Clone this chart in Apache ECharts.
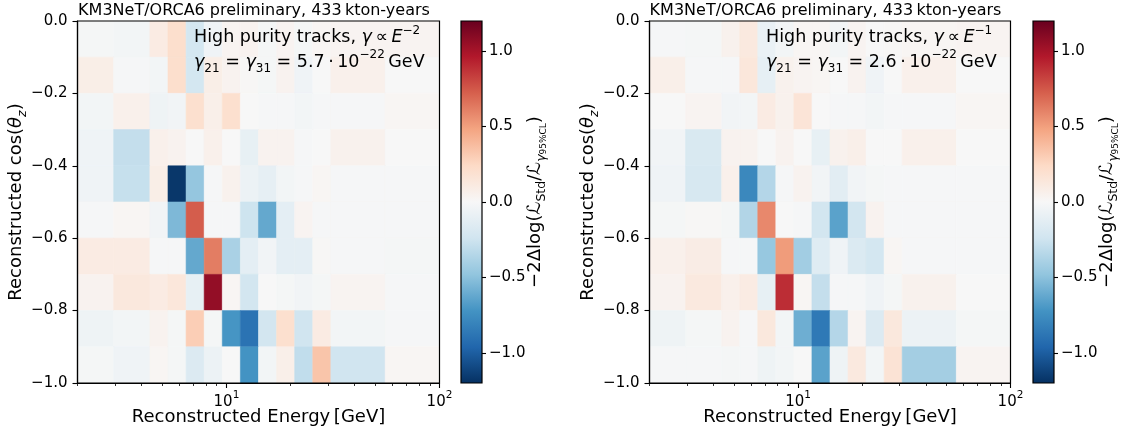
<!DOCTYPE html>
<html>
<head>
<meta charset="utf-8">
<script src="https://cdn.jsdelivr.net/npm/echarts@6/dist/echarts.min.js"></script>
<style>
  html, body { margin: 0; padding: 0; background: #fff; }
  #chart { width: 1128px; height: 437px; }
</style>
</head>
<body>
<div id="chart"></div>
<script>
// Reconstructed-energy bin edges in GeV (log-spaced, outer bins merged)
const energyEdges = [2.0, 2.957, 4.373, 5.318, 6.467, 7.864, 9.564, 11.63, 14.14, 17.20, 20.91, 25.43, 30.92, 55.61, 100.0];
// Reconstructed cos(theta_z) bin edges, top row first
const cosEdges = [0.0, -0.1, -0.2, -0.3, -0.4, -0.5, -0.6, -0.7, -0.8, -0.9, -1.0];

// -2 Delta log L per cell, rows listed from cos = 0 downwards, gamma ∝ E^-2
const llrSteep = [
  [-0.02, -0.03, 0.10, 0.21, -0.22, -0.05, 0.03, 0.04, -0.02, 0.03, -0.02, 0.02, 0.03, 0.03],
  [0.08, -0.01, -0.03, 0.21, -0.22, 0.08, 0.04, 0.01, -0.02, 0.04, -0.05, 0.00, 0.06, 0.00],
  [-0.03, 0.06, -0.06, -0.04, 0.20, 0.07, 0.20, 0.00, -0.01, -0.01, -0.03, -0.01, -0.01, 0.02],
  [-0.05, -0.29, 0.06, 0.04, 0.00, 0.06, 0.00, -0.10, 0.04, 0.04, -0.01, 0.00, 0.05, 0.00],
  [-0.05, -0.28, 0.08, -1.17, -0.47, -0.01, 0.05, -0.07, -0.11, -0.03, -0.01, 0.02, -0.01, -0.01],
  [-0.01, 0.02, -0.04, -0.54, 0.73, -0.01, -0.01, -0.25, -0.62, -0.12, 0.03, -0.01, -0.01, -0.01],
  [0.10, 0.10, -0.01, -0.01, -0.62, 0.62, -0.39, -0.12, -0.04, -0.12, -0.12, 0.01, -0.01, -0.02],
  [0.04, 0.13, 0.10, 0.14, -0.10, 1.06, 0.02, -0.23, 0.00, -0.02, -0.04, -0.02, 0.03, -0.01],
  [-0.06, -0.03, 0.04, -0.02, 0.30, -0.02, -0.71, -0.89, -0.23, 0.20, -0.24, 0.10, -0.03, -0.01],
  [-0.02, -0.05, 0.02, -0.02, -0.17, -0.07, 0.00, -0.72, -0.03, 0.07, -0.30, 0.34, -0.24, 0.02]
];

// Same layout, gamma ∝ E^-1
const llrFlat = [
  [-0.01, -0.02, 0.05, 0.12, -0.08, -0.03, 0.02, 0.02, -0.03, 0.03, 0.00, 0.01, 0.02, 0.03],
  [0.07, -0.01, -0.01, 0.14, -0.11, 0.05, 0.03, 0.02, 0.00, 0.04, -0.05, 0.00, 0.06, 0.00],
  [0.00, 0.03, -0.04, -0.03, 0.10, 0.05, 0.16, 0.00, -0.01, -0.01, -0.03, -0.01, -0.01, 0.02],
  [-0.04, -0.19, 0.04, 0.04, 0.00, 0.04, 0.00, -0.10, 0.05, 0.07, 0.00, 0.00, 0.06, 0.00],
  [-0.05, -0.20, 0.06, -0.78, -0.35, -0.01, 0.04, -0.04, -0.13, -0.04, -0.02, -0.01, -0.01, -0.01],
  [-0.02, 0.01, -0.02, -0.36, 0.58, 0.00, -0.01, -0.23, -0.65, -0.23, 0.04, -0.01, -0.01, -0.01],
  [0.06, 0.09, -0.01, -0.01, -0.46, 0.51, -0.42, -0.15, -0.05, -0.18, -0.22, 0.02, -0.01, -0.01],
  [0.04, 0.12, 0.06, 0.10, -0.10, 0.89, 0.02, -0.29, -0.01, -0.01, -0.05, -0.02, 0.05, 0.00],
  [-0.06, -0.02, 0.04, -0.01, 0.13, -0.03, -0.59, -0.86, -0.35, 0.03, -0.17, 0.13, -0.07, -0.02],
  [-0.01, -0.01, -0.02, -0.01, -0.06, -0.03, 0.00, -0.65, -0.06, 0.12, -0.03, 0.17, -0.41, 0.03]
];

// Tick positions
const xMajorTicks = [10, 100];
const xMinorTicks = [2, 3, 4, 5, 6, 7, 8, 9, 20, 30, 40, 50, 60, 70, 80, 90];
const cbarTicks = [-1.0, -0.5, 0.0, 0.5, 1.0];
const cbarRange = [-1.2, 1.2];

// Panel texts
const titleText = 'KM3NeT/ORCA6 preliminary, 433\u2009kton-years';
const powerIndex = ['\u22122', '\u22121'];
const gammaValue = ['5.7', '2.6'];

// RdBu reversed, low -> high
const rdbuR = ['#053061', '#2166ac', '#4393c3', '#92c5de', '#d1e5f0', '#f7f7f7',
               '#fddbc7', '#f4a582', '#d6604d', '#b2182b', '#67001f'];

const FONT = 'DejaVu Sans';
const MINUS = '\u2212';
const fmt1 = v => (Math.abs(v) < 1e-9 ? 0 : v).toFixed(1).replace('-', MINUS);

function cellData(values) {
  const out = [];
  values.forEach((row, r) => row.forEach((v, c) => {
    out.push([energyEdges[c], energyEdges[c + 1], cosEdges[r + 1], cosEdges[r], v]);
  }));
  return out;
}

function renderCell(params, api) {
  const p0 = api.coord([api.value(0), api.value(2)]);
  const p1 = api.coord([api.value(1), api.value(3)]);
  const color = api.visual('color');
  return {
    type: 'rect',
    shape: {
      x: Math.min(p0[0], p1[0]), y: Math.min(p0[1], p1[1]),
      width: Math.abs(p1[0] - p0[0]), height: Math.abs(p1[1] - p0[1])
    },
    style: { fill: color, stroke: color, lineWidth: 0.6 }
  };
}

function renderBar(params, api) {
  const p0 = api.coord([api.value(0), api.value(2)]);
  const p1 = api.coord([api.value(1), api.value(3)]);
  const stops = rdbuR.map((c, i) => ({ offset: i / (rdbuR.length - 1), color: c }));
  return {
    type: 'rect',
    shape: { x: p0[0], y: p1[1], width: p1[0] - p0[0], height: p0[1] - p1[1] },
    style: { fill: new echarts.graphic.LinearGradient(0, 1, 0, 0, stops), stroke: '#000', lineWidth: 1.2 }
  };
}

const spine = () => ({ show: true, onZero: false, lineStyle: { color: '#000', width: 1.2 } });
const noLine = () => ({ show: false, onZero: false });
const tickLine = w => ({ color: '#000', width: w });
const tickFont = () => ({ fontFamily: FONT, fontSize: 15, color: '#000' });

const panels = [
  { values: llrSteep, left: 77.5, width: 362, cbLeft: 461 },
  { values: llrFlat, left: 649.5, width: 361, cbLeft: 1033 }
];
const TOP = 21, HEIGHT = 362;

const grid = [], xAxis = [], yAxis = [], series = [], graphic = [];

panels.forEach((p, k) => {
  const g = grid.length;
  // plot frame: the grid border sits above the cells
  grid.push({
    left: p.left, top: TOP, width: p.width, height: HEIGHT, outerBoundsMode: 'none',
    show: true, z: 5, backgroundColor: 'transparent', borderColor: '#000', borderWidth: 1.2
  });
  grid.push({ left: p.cbLeft, top: TOP, width: 21, height: HEIGHT, outerBoundsMode: 'none' });

  const xMain = xAxis.length;
  // bottom axis: decades with labels
  xAxis.push({
    type: 'log', logBase: 10, min: 2, max: 100, gridIndex: g, position: 'bottom', z: 10,
    axisLine: spine(),
    axisTick: { show: true, inside: false, customValues: xMajorTicks, length: 5, lineStyle: tickLine(1.1) },
    axisLabel: {
      show: true, customValues: xMajorTicks, margin: 7,
      formatter: v => '{b|10}{s|' + Math.round(Math.log10(v)) + '}',
      rich: {
        b: { fontFamily: FONT, fontSize: 15, color: '#000', lineHeight: 20, verticalAlign: 'bottom' },
        s: { fontFamily: FONT, fontSize: 10.5, color: '#000', lineHeight: 10, verticalAlign: 'top' }
      }
    },
    splitLine: { show: false }
  });
  // bottom axis: minor ticks
  xAxis.push({
    type: 'log', logBase: 10, min: 2, max: 100, gridIndex: g, position: 'bottom', z: 10,
    axisLine: noLine(),
    axisTick: { show: true, inside: false, customValues: xMinorTicks, length: 3, lineStyle: tickLine(0.8) },
    axisLabel: { show: false }, splitLine: { show: false }
  });
  const xBar = xAxis.length;
  xAxis.push({ type: 'value', min: 0, max: 1, gridIndex: g + 1, show: false, axisLine: noLine() });

  const yMain = yAxis.length;
  yAxis.push({
    type: 'value', min: -1, max: 0, interval: 0.2, gridIndex: g, position: 'left', z: 10,
    axisLine: spine(),
    axisTick: { show: true, inside: false, length: 5, lineStyle: tickLine(1.1) },
    axisLabel: Object.assign({ margin: 10, formatter: fmt1 }, tickFont()),
    splitLine: { show: false }
  });
  const yBar = yAxis.length;
  yAxis.push({
    type: 'value', min: cbarRange[0], max: cbarRange[1], gridIndex: g + 1, position: 'right', z: 10,
    axisLine: noLine(),
    axisTick: { show: true, inside: false, customValues: cbarTicks, length: 4, lineStyle: tickLine(1.1) },
    axisLabel: Object.assign({ customValues: cbarTicks, margin: 7, formatter: fmt1 }, tickFont()),
    splitLine: { show: false }
  });

  series.push({
    type: 'custom', name: 'llr' + k, xAxisIndex: xMain, yAxisIndex: yMain,
    renderItem: renderCell, encode: { x: [0, 1], y: [2, 3] },
    data: cellData(p.values), z: 1, silent: true
  });
  series.push({
    type: 'custom', name: 'cbar' + k, xAxisIndex: xBar, yAxisIndex: yBar,
    renderItem: renderBar, encode: { x: [0, 1], y: [2, 3] },
    data: [[0, 1, cbarRange[0], cbarRange[1]]], z: 1, silent: true
  });

  const dx = p.left - panels[0].left;
  const mid = p.left + p.width / 2;
  const cy = TOP + HEIGHT / 2;
  const big = 18;

  // panel title
  graphic.push({
    type: 'text', x: mid - 4.5, y: 10.5,
    style: { text: titleText, font: '16px "' + FONT + '"', fill: '#000', align: 'center', verticalAlign: 'middle' }
  });

  const annRich = {
    r: { fontFamily: FONT, fontSize: 17.5, lineHeight: 26, fill: '#000' },
    i: { fontFamily: FONT, fontSize: 17.5, lineHeight: 26, fontStyle: 'italic', fill: '#000' },
    sup: { fontFamily: FONT, fontSize: 12, lineHeight: 12, verticalAlign: 'top', fill: '#000' },
    sub: { fontFamily: FONT, fontSize: 12, lineHeight: 12, verticalAlign: 'bottom', fill: '#000' }
  };
  graphic.push({
    type: 'text', x: 194 + dx, y: 37.5, z: 10,
    style: {
      text: '{r|High purity tracks, }{i|\u03b3}{r|\u2009\u221d\u2009}{i|E}{sup|' + powerIndex[k] + '}',
      rich: annRich, align: 'left', verticalAlign: 'middle'
    }
  });
  graphic.push({
    type: 'text', x: 194 + dx, y: 62, z: 10,
    style: {
      text: '{i|\u03b3}{sub|21}{r| = }{i|\u03b3}{sub|31}{r| = ' + gammaValue[k] + '\u2009\u00b7\u200910}{sup|\u221222}{r|\u2009GeV}',
      rich: annRich, align: 'left', verticalAlign: 'middle'
    }
  });

  const labRich = {
    r: { fontFamily: FONT, fontSize: big, lineHeight: 26, fill: '#000' },
    i: { fontFamily: FONT, fontSize: big, lineHeight: 26, fontStyle: 'italic', fill: '#000' },
    sub: { fontFamily: FONT, fontSize: 12.5, lineHeight: 12, verticalAlign: 'bottom', fill: '#000' },
    subi: { fontFamily: FONT, fontSize: 12.5, lineHeight: 12, verticalAlign: 'bottom', fontStyle: 'italic', fill: '#000' },
    subsub: { fontFamily: FONT, fontSize: 9, lineHeight: 6, verticalAlign: 'bottom', fill: '#000' }
  };
  // x axis name
  graphic.push({
    type: 'text', x: mid, y: 417.5,
    style: { text: '{r|Reconstructed Energy\u2009[GeV]}', rich: labRich, align: 'center', verticalAlign: 'middle' }
  });
  // y axis name
  graphic.push({
    type: 'text', x: 16 + dx, y: cy, rotation: Math.PI / 2,
    style: { text: '{r|Reconstructed cos(}{i|\u03b8}{subi|z}{r|)}', rich: labRich, align: 'center', verticalAlign: 'middle' }
  });
  // colour bar name
  graphic.push({
    type: 'text', x: p.cbLeft + 74, y: cy, rotation: Math.PI / 2,
    style: {
      text: '{r|\u22122\u0394log(}{r|\u2112}{sub|Std}{r|/}{r|\u2112}{subi|\u03b3}{subsub|95%CL}{r|)}',
      rich: labRich, align: 'center', verticalAlign: 'middle'
    }
  });
});

const chart = echarts.init(document.getElementById('chart'), null, { renderer: 'canvas' });
chart.setOption({
  animation: false,
  backgroundColor: '#fff',
  grid, xAxis, yAxis, series, graphic,
  visualMap: {
    type: 'continuous', show: false, min: cbarRange[0], max: cbarRange[1],
    dimension: 4, seriesIndex: [0, 2], inRange: { color: rdbuR }
  }
});
</script>
</body>
</html>
